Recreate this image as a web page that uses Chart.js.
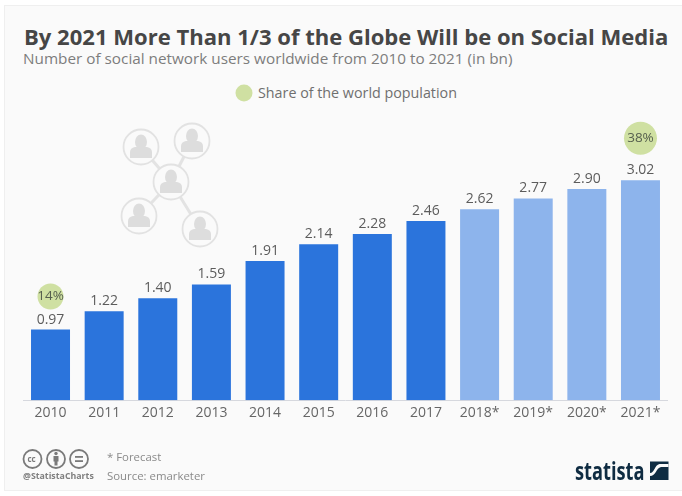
<!DOCTYPE html>
<html>
<head>
<meta charset="utf-8">
<script src="https://cdn.jsdelivr.net/npm/chart.js@4"></script>
<style>
html,body{margin:0;padding:0;background:#fff;width:682px;height:496px;overflow:hidden;font-family:"Open Sans",sans-serif}
#panel{position:absolute;left:4px;top:5px;width:678px;height:486px;background:#fafafa;border:1px solid #efefef;border-right:none;box-sizing:border-box}
#art{position:absolute;left:0;top:0}
canvas{position:absolute;left:0;top:0}
.t{position:absolute;white-space:nowrap;line-height:1}
</style>
</head>
<body>
<div id="panel"></div>
<svg id="art" width="682" height="496">
  <g stroke="#e3e3e3" stroke-width="3">
    <line x1="171" y1="182" x2="141" y2="147"/><line x1="171" y1="182" x2="192" y2="141"/>
    <line x1="171" y1="182" x2="139" y2="216"/><line x1="171" y1="182" x2="200" y2="229"/>
  </g>
  <g id="people"></g>
</svg>
<div class="t" style="left:24px;top:24.5px;font-size:22.05px;font-weight:700;color:#464646">By 2021 More Than 1/3 of the Globe Will be on Social Media</div>
<div class="t" style="left:23px;top:51px;font-size:15.3px;color:#7d7d7d">Number of social network users worldwide from 2010 to 2021 (in bn)</div>
<svg style="position:absolute;left:0;top:0" width="682" height="496"><circle cx="244" cy="93" r="8.5" fill="#cfe0a2"/></svg>
<div class="t" style="left:258px;top:86px;font-size:14.3px;color:#6f6f6f">Share of the world population</div>
<canvas id="c" width="682" height="496"></canvas>
<svg style="position:absolute;left:0;top:0" width="682" height="496">
  <g fill="none" stroke="#7a7a7a" stroke-width="1.8">
    <circle cx="32.5" cy="459" r="9"/><circle cx="56" cy="459" r="9"/><circle cx="79" cy="459" r="9"/>
  </g>
  <g fill="#7a7a7a">
    <circle cx="56" cy="453.500" r="1.7"/><rect x="53.500" y="456" width="5" height="5.500"/><rect x="54.500" y="460.500" width="3" height="5"/>
    <rect x="75" y="456" width="8" height="1.8"/><rect x="75" y="460.200" width="8" height="1.8"/>
  </g>
  <rect x="650" y="461.5" width="18.5" height="18.5" fill="#0f2c42"/>
  <path d="M650 476c6 0 6-8 11-9h7.5v-3h-9c-5 1-5 9-9.500 9z" fill="#fafafa"/>
</svg>
<div class="t" style="left:27.5px;top:454.5px;font-size:8px;font-weight:700;color:#7a7a7a">cc</div>
<div class="t" style="left:23px;top:471.5px;font-size:8.8px;font-weight:700;color:#7f7f7f">@StatistaCharts</div>
<div class="t" style="left:107px;top:451px;font-size:11.4px;color:#8a8a8a">* Forecast</div>
<div class="t" style="left:107px;top:470px;font-size:11.4px;color:#8a8a8a">Source: emarketer</div>
<div class="t" style="left:575px;top:458px;font-size:25px;font-weight:700;color:#0f2c42;transform:scaleX(.73);transform-origin:left top">statista</div>
<script>
const categories = ['2010','2011','2012','2013','2014','2015','2016','2017','2018*','2019*','2020*','2021*'];
const users = [0.97,1.22,1.40,1.59,1.91,2.14,2.28,2.46,2.62,2.77,2.90,3.02];
const valueLabels = ['0.97','1.22','1.40','1.59','1.91','2.14','2.28','2.46','2.62','2.77','2.90','3.02'];
const sharePercent = [14,null,null,null,null,null,null,null,null,null,null,38];
const actualColor = '#2b74dc';
const forecastColor = '#8db4ec';

// Network pictogram
const people = [[141,147],[192,141],[171,182],[139,216],[200,229]];
let svg = '';
for (const [x,y] of people) {
  svg += `<circle cx="${x}" cy="${y}" r="17.500" fill="#fafafa" stroke="#e2e2e2" stroke-width="1.800"/>`;
  svg += `<ellipse cx="${x}" cy="${y-5}" rx="6" ry="7.500" fill="#dddddd"/>`;
  svg += `<path d="M${x-11} ${y+11}v-6q0-4 5-5h12q5 1 5 5v6z" fill="#dddddd"/>`;
}
document.getElementById('people').innerHTML = svg;

const labelsPlugin = {
  id:'valueLabels',
  afterDatasetsDraw(chart){
    const ctx = chart.ctx, bars = chart.getDatasetMeta(0).data;
    ctx.save();
    ctx.textAlign='center'; ctx.textBaseline='middle';
    bars.forEach((bar,i)=>{
      const s = sharePercent[i];
      if (s !== null) {
        const r = 13 + (s-14)*3.5/24;
        const cy = bar.y - (33 + (s-14)*9/24);
        ctx.fillStyle='#cfe0a2';
        ctx.beginPath(); ctx.arc(bar.x,cy,r,0,Math.PI*2); ctx.fill();
        ctx.fillStyle='#565f4e';
        ctx.font='13.500px "Open Sans"';
        ctx.fillText(s+'%',bar.x,cy);
      }
      ctx.fillStyle='#5c5c5c';
      ctx.font='14px "Open Sans"';
      ctx.fillText(valueLabels[i],bar.x,bar.y-10);
    });
    ctx.restore();
  }
};

new Chart(document.getElementById('c'),{
  type:'bar',
  data:{labels:categories,datasets:[{
    data:users,
    backgroundColor:categories.map(c=>c.endsWith('*')?forecastColor:actualColor),
    barPercentage:0.727,categoryPercentage:1
  }]},
  options:{
    responsive:false,animation:false,devicePixelRatio:1,
    layout:{padding:{left:23.7,right:14.7,top:36,bottom:71}},
    plugins:{legend:{display:false},title:{display:false},tooltip:{enabled:false}},
    scales:{
      y:{display:false,min:0,max:5},
      x:{
        grid:{display:false,drawTicks:false},
        border:{display:true,color:'#d6d8de',width:1},
        ticks:{color:'#666',font:{family:'"Open Sans"',size:14},padding:4,maxRotation:0,autoSkip:false}
      }
    }
  },
  plugins:[labelsPlugin]
});
</script>
</body>
</html>
